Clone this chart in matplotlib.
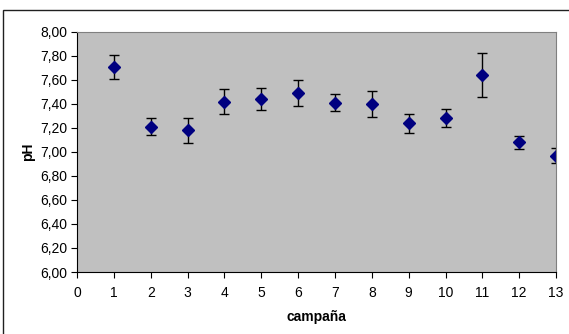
import matplotlib.pyplot as plt
from matplotlib.patches import Rectangle

# datos: pH medio por campaña y su desviación
campanas = [1, 2, 3, 4, 5, 6, 7, 8, 9, 10, 11, 12, 13]
ph = [7.71, 7.21, 7.18, 7.42, 7.44, 7.49, 7.41, 7.40, 7.24, 7.28, 7.64, 7.08, 6.97]
err = [0.10, 0.07, 0.105, 0.105, 0.09, 0.11, 0.07, 0.11, 0.08, 0.075, 0.18, 0.055, 0.06]
yticks = [6.0, 6.2, 6.4, 6.6, 6.8, 7.0, 7.2, 7.4, 7.6, 7.8, 8.0]

plt.rcParams['font.family'] = ['Liberation Sans', 'DejaVu Sans']

fig = plt.figure(figsize=(5.69, 3.34), dpi=100)
ax = fig.add_axes([0.1353, 0.1856, 0.842, 0.719])
ax.set_facecolor('#C0C0C0')

ax.errorbar(campanas, ph, yerr=err, fmt='D', color='#000080', markersize=6,
            ecolor='black', elinewidth=1, capsize=3.5, capthick=1)

ax.set_xlim(0, 13)
ax.set_ylim(6.0, 8.0)
ax.set_xticks(range(0, 14))
ax.set_yticks(yticks)
ax.set_yticklabels([f"{v:.2f}".replace('.', ',') for v in yticks])
ax.tick_params(labelsize=10, length=4, width=0.8, direction='out')
ax.tick_params(axis='x', pad=6)
ax.tick_params(axis='y', pad=3)

for s in ['top', 'right']:
    ax.spines[s].set_color('#808080')
for s in ['left', 'bottom']:
    ax.spines[s].set_color('black')

ax.set_xlabel("campaña", fontsize=10, fontweight='bold', labelpad=7)
ax.set_ylabel("pH", fontsize=10, fontweight='bold', labelpad=4)

# marco exterior del gráfico
fig.patches.append(Rectangle((0.006, -0.01), 1.0, 0.98, transform=fig.transFigure,
                             fill=False, edgecolor='#202020', linewidth=1))

fig.savefig("out.png", dpi=100)
